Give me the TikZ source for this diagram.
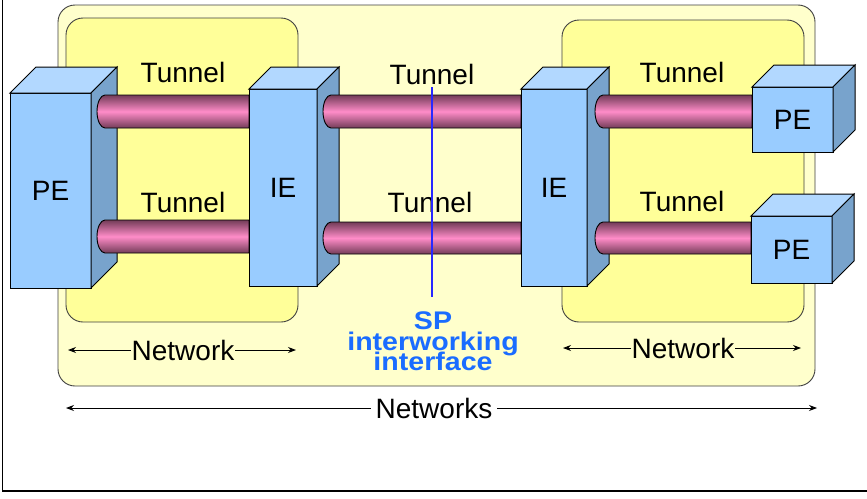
\documentclass[tikz,border=0pt]{standalone}
\usepackage{fontspec}
\setmainfont{Liberation Sans}
\usetikzlibrary{arrows.meta}

\definecolor{netouter}{RGB}{255,255,204}
\definecolor{netinner}{RGB}{255,255,153}
\definecolor{boxfront}{RGB}{153,204,255}
\definecolor{boxtop}{RGB}{178,216,255}
\definecolor{boxside}{RGB}{120,163,204}
\definecolor{tubedark}{RGB}{115,60,88}
\definecolor{tubepink}{RGB}{255,140,200}
\definecolor{ifblue}{RGB}{26,108,255}
\definecolor{ifline}{RGB}{40,40,255}

% cuboid: name, x, y (top-left of front face), width, height, depth, label
\newcommand{\cuboid}[7]{%
  \filldraw[boxedge, fill=boxfront] (#2,#3) rectangle ++(#4,#5);
  \filldraw[boxedge, fill=boxtop] (#2,#3) -- ++(#6,-#6) -- ++(#4,0) -- ++(-#6,#6) -- cycle;
  \filldraw[boxedge, fill=boxside] (#2+#4,#3) -- ++(#6,-#6) -- ++(0,#5) -- ++(-#6,#6) -- cycle;
  \node[lbl] (#1) at (#2+#4/2,#3+#5/2) {#7};
}
% tube with a rounded left end: name, x-left, x-right, y-top, y-bottom
\newcommand{\tube}[5]{%
  \shade[draw=black, line width=0.9pt, top color=tubedark, bottom color=tubedark, middle color=tubepink]
    (#3,#4) -- (#2+8,#4) arc[start angle=270, end angle=90, x radius=8, y radius={(#5-#4)/2}] -- (#3,#5) -- cycle;
  \coordinate (#1) at (#2,{(#4+#5)/2});
}

\begin{document}
\begin{tikzpicture}[x=1pt, y=-1pt,
  boxedge/.style={draw=black, line width=1pt},
  lbl/.style={font=\fontsize{28}{28}\selectfont, inner sep=0pt, text=black},
  iftext/.style={font=\bfseries\fontsize{25.5}{25.5}\selectfont, text=ifblue, inner sep=0pt, xscale=1.12},
  netbox/.style={draw=black!75, line width=0.9pt, rounded corners=17pt},
  dimarrow/.style={line width=0.9pt, {Stealth[length=8pt,width=6pt]}-},
]
\useasboundingbox (0,0) rectangle (867,498);
\fill[white] (0,0) rectangle (867,498);

% frame
\draw[line width=1pt] (2,0) -- (2,491);
\draw[line width=2pt] (2,491) -- (867,491);

% networks
\draw[netbox, fill=netouter] (58,5) rectangle (815,386);
\draw[netbox, fill=netinner] (66,18) rectangle (298,322);
\draw[netbox, fill=netinner] (562,20) rectangle (804,322);

% left PE and its tunnels
\cuboid{peL}{10}{93}{81}{195}{26}{PE}
\tube{tLa}{97}{249}{95}{128}
\tube{tLb}{97}{249}{220}{253}

% left IE and the inter-provider tunnels
\cuboid{ieL}{249}{89}{68}{197}{22}{IE}
\tube{tMa}{323}{521}{95}{128}
\tube{tMb}{323}{521}{222}{254}

% right IE and its tunnels
\cuboid{ieR}{521}{89}{66}{197}{22}{IE}
\tube{tRa}{595}{752}{95}{128}
\tube{tRb}{595}{751}{222}{254}

% right PEs
\cuboid{peRa}{752}{87}{81}{65}{22}{PE}
\cuboid{peRb}{751}{216}{81}{67}{22}{PE}

% tunnel labels
\node[lbl] (lt1) at (183,72) {Tunnel};
\node[lbl] (lt2) at (183,202) {Tunnel};
\node[lbl] (lt3) at (432,74) {Tunnel};
\node[lbl] (lt4) at (430,202) {Tunnel};
\node[lbl] (lt5) at (682,72) {Tunnel};
\node[lbl] (lt6) at (682,201) {Tunnel};

% interworking interface
\coordinate (ifTop) at (432,87);
\coordinate (ifBot) at (432,297);
\draw[ifline, line width=1.4pt] (ifTop) -- (ifBot);
\node[iftext, anchor=base] (if1) at (433,329) {SP};
\node[iftext, anchor=base] (if2) at (433,350) {interworking};
\node[iftext, anchor=base] (if3) at (433,370) {interface};

% extent arrows
\node[lbl] (n1) at (183,350) {Network};
\coordinate (n1a) at (68,350);
\coordinate (n1b) at (296,350);
\draw[dimarrow] (n1a) -- (n1.west);
\draw[dimarrow] (n1b) -- (n1.east);

\node[lbl] (n2) at (683,348) {Network};
\coordinate (n2a) at (563,348);
\coordinate (n2b) at (801,348);
\draw[dimarrow] (n2a) -- (n2.west);
\draw[dimarrow] (n2b) -- (n2.east);

\node[lbl, inner xsep=4pt] (n3) at (434,408) {Networks};
\coordinate (n3a) at (66,408);
\coordinate (n3b) at (817,408);
\draw[dimarrow] (n3a) -- (n3.west);
\draw[dimarrow] (n3b) -- (n3.east);
\end{tikzpicture}
\end{document}
